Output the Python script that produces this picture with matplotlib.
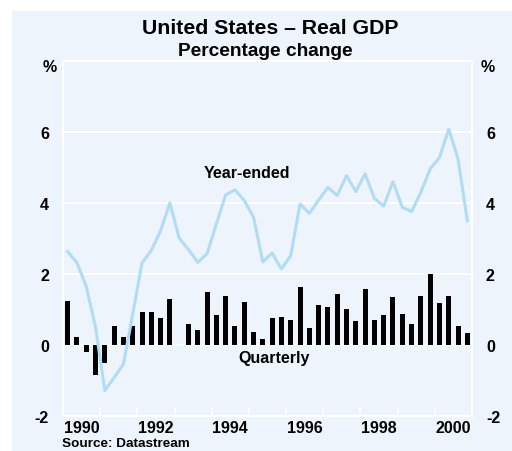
import matplotlib
matplotlib.use("Agg")
import matplotlib.pyplot as plt
import numpy as np
from matplotlib.patches import Rectangle

plt.rcParams['font.family'] = ['Liberation Sans', 'DejaVu Sans']
plt.rcParams['font.weight'] = 'bold'
plt.rcParams['axes.unicode_minus'] = False

# quarterly data, 1990 Q1 to 2000 Q4
start_year = 1990
quarterly = [1.25, 0.23, -0.20, -0.85, -0.51, 0.53, 0.23, 0.53,
             0.92, 0.92, 0.75, 1.29, 0.00, 0.58, 0.42, 1.50,
             0.84, 1.38, 0.53, 1.21, 0.36, 0.17, 0.75, 0.78,
             0.71, 1.63, 0.47, 1.12, 1.07, 1.43, 1.01, 0.67,
             1.58, 0.71, 0.84, 1.35, 0.87, 0.58, 1.38, 2.00,
             1.18, 1.38, 0.53, 0.33]
year_ended = [2.63, 2.32, 1.65, 0.50, -1.28, -0.92, -0.54, 0.87,
              2.31, 2.66, 3.22, 4.00, 3.01, 2.69, 2.33, 2.57,
              3.41, 4.23, 4.37, 4.07, 3.60, 2.34, 2.59, 2.14,
              2.52, 3.97, 3.71, 4.08, 4.44, 4.21, 4.77, 4.32,
              4.82, 4.13, 3.91, 4.60, 3.88, 3.76, 4.30, 4.96,
              5.28, 6.08, 5.24, 3.50]
year_labels = ['1990', '1992', '1994', '1996', '1998', '2000']
y_ticks = [-2, 0, 2, 4, 6]

bg = '#edf4fc'
line_col = '#b2dcf4'

fig = plt.figure(figsize=(5.12, 4.52), dpi=100)
panel = Rectangle((12 / 512, 0), 1, 1 - 12 / 452, transform=fig.transFigure,
                  facecolor=bg, edgecolor='none', zorder=-10)
fig.patches.append(panel)

ax = fig.add_axes([63 / 512, 1 - 417 / 452, (472 - 63) / 512, (417 - 62) / 452])
ax.set_zorder(1)
ax.set_facecolor(bg)

x = start_year + (np.arange(len(quarterly)) + 0.5) / 4
ax.bar(x, quarterly, width=0.135, color='black', zorder=3)
ax.plot(x, year_ended, color=line_col, lw=2.2, zorder=4)

ax.set_xlim(1990, 2001)
ax.set_ylim(-2, 8)

# white grid and frame
for v in [0, 2, 4, 6]:
    ax.axhline(v, color='white', lw=1.2, zorder=1)
for s in ax.spines.values():
    s.set_color('white')
    s.set_linewidth(1.5)

ax.set_xticks(np.arange(1991, 2001), minor=False)
ax.tick_params(axis='x', which='major', direction='in', length=6, color='white', width=1.2,
               labelbottom=False)
ax.set_xticks([int(y) + 0.5 for y in year_labels], minor=True)
ax.set_xticklabels(year_labels, minor=True)
ax.tick_params(axis='x', which='minor', length=0, labelsize=11.5, pad=3)

ax.set_yticks(y_ticks)
ax.tick_params(axis='y', length=0, labelsize=11.5, pad=10, labelleft=True, labelright=True)

ax.text(0.45, 0.687, 'Year-ended', transform=ax.transAxes, ha='center', va='center',
        fontsize=11.5)
ax.text(0.515, 0.166, 'Quarterly', transform=ax.transAxes, ha='center', va='center',
        fontsize=11.5)

fig.text(270 / 512, 1 - 29 / 452, 'United States \u2013 Real GDP', ha='center', va='center',
         fontsize=15.3)
fig.text(265 / 512, 1 - 51 / 452, 'Percentage change', ha='center', va='center',
         fontsize=13.8)
fig.text(50 / 512, 1 - 68 / 452, '%', ha='center', va='center', fontsize=11.5)
fig.text(488 / 512, 1 - 68 / 452, '%', ha='center', va='center', fontsize=11.5)
fig.text(62 / 512, 1 - 444 / 452, 'Source: Datastream', ha='left', va='center', fontsize=9.7)

fig.savefig('out.png', dpi=100, facecolor='white')
